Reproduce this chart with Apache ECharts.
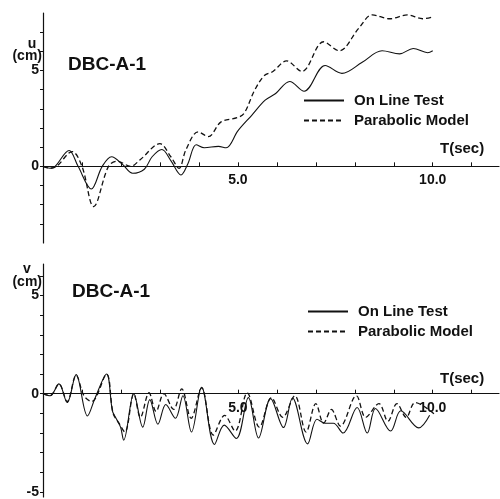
<!DOCTYPE html>
<html><head><meta charset="utf-8">
<script src="https://cdn.jsdelivr.net/npm/echarts@6/dist/echarts.min.js"></script>
<style>html,body{margin:0;padding:0;background:#fff}#c{width:500px;height:499px}</style>
</head><body><div id="c"></div>
<script>
// ---- data ----
var seriesNames = ['On Line Test', 'Parabolic Model'];
// top panel: u (cm) vs T (sec)
var tTopOLT = [0, 0.18, 0.31, 0.67, 0.9, 1.24, 1.52, 1.76, 2.04, 2.3, 2.6, 2.8, 3.05, 3.28, 3.54, 3.72, 3.93, 4.14, 4.5, 4.7, 5.0, 5.35, 5.7, 5.97, 6.33, 6.7, 7.24, 7.67, 8.19, 8.7, 9.15, 9.5, 9.87, 10.0];
var uOLT    = [0, -0.1, 0, 0.83, 0, -1.18, 0, 0.5, 0.1, -0.36, -0.15, 0.5, 0.88, 0.3, -0.45, 0.15, 1.13, 0.97, 1.04, 0.97, 1.85, 2.65, 3.45, 3.8, 4.43, 3.92, 5.26, 4.85, 5.43, 6.03, 5.87, 6.15, 5.93, 6.03];
var tTopPM  = [0, 0.18, 0.35, 0.75, 1.0, 1.3, 1.68, 1.9, 2.25, 2.5, 3.0, 3.28, 3.49, 3.67, 3.98, 4.24, 4.57, 5.0, 5.17, 5.43, 5.68, 5.9, 6.25, 6.64, 7.2, 7.6, 8.1, 8.45, 8.9, 9.35, 9.74, 10.0];
var uPM     = [0, -0.1, 0, 0.77, 0, -2.1, 0, 0.27, 0, 0.36, 1.18, 0.5, -0.1, 0.88, 1.8, 1.55, 2.32, 2.55, 2.8, 3.97, 4.74, 4.95, 5.5, 4.95, 6.5, 6.03, 7.2, 7.9, 7.7, 7.9, 7.7, 7.8];
// bottom panel: v (cm) vs T (sec)
var tBotOLT = [0, 0.18, 0.41, 0.62, 0.85, 1.14, 1.34, 1.63, 1.78, 1.86, 1.99, 2.07, 2.33, 2.56, 2.74, 2.95, 3.15, 3.4, 3.59, 3.81, 4.07, 4.4, 4.65, 4.96, 5.27, 5.53, 5.84, 6.17, 6.4, 6.79, 7.03, 7.24, 7.45, 7.7, 8.06, 8.32, 8.53, 8.92, 9.18, 9.64, 9.92];
var vOLT    = [0, -0.1, 0.5, -0.45, 0.97, -1.13, -0.2, 1.0, -0.87, -1.2, -1.7, -2.36, 0, -1.7, -0.3, -1.55, -0.55, -1.25, -0.1, -1.95, 0.33, -2.58, -1.6, -2.28, -0.2, -2.25, -0.25, -1.72, -0.22, -2.55, -1.3, -1.5, -1.5, -2.0, -0.7, -2.0, -0.75, -1.9, -0.87, -1.74, -1.1];
var tBotPM  = [0, 0.18, 0.41, 0.62, 0.85, 1.05, 1.25, 1.63, 1.8, 1.95, 2.1, 2.33, 2.5, 2.72, 2.9, 3.1, 3.35, 3.56, 3.8, 4.07, 4.37, 4.66, 4.93, 5.24, 5.55, 5.86, 6.15, 6.46, 6.75, 7.0, 7.2, 7.4, 7.63, 8.04, 8.28, 8.62, 8.85, 9.08, 9.32, 9.55, 10.05];
var vPM     = [0, -0.1, 0.5, -0.4, 0.95, -0.1, -0.4, 1.0, -1.0, -1.5, -1.95, 0, -1.2, 0.05, -0.9, 0, -0.8, 0.25, -1.25, 0.3, -2.1, -1.1, -1.9, 0.05, -1.7, -0.2, -1.2, -0.1, -1.95, -0.5, -1.5, -0.8, -1.65, -0.1, -1.2, -0.5, -1.4, -0.5, -1.2, -0.45, -1.05];
// axis ranges and tick labels
var xRange = [0, 11.7];
var yTopRange = [-4, 8];
var yBotRange = [-5.25, 6.6];
var xTickValues = [1, 2, 3, 4, 5, 6, 7, 8, 9, 10, 11];
var xLabelValues = [5, 10];
var xLabelText = ['5.0', '10.0'];
var yTopTicks = [-3, -2, -1, 1, 2, 3, 4, 5, 6, 7];
var yTopLabels = [0, 5];
var yBotTicks = [-5, -4, -3, -2, -1, 1, 2, 3, 4, 5, 6];
var yBotLabels = [-5, 0, 5];

function pairs(ts, vs) { return ts.map(function (t, i) { return [t, vs[i]]; }); }

var FONT = '"Liberation Sans", Arial, sans-serif';
var INK = '#111';
var GRIDS = [
  { left: 43, top: 13, width: 456, height: 230 },
  { left: 43, top: 264, width: 456, height: 233 }
];
var YR = [yTopRange, yBotRange];

function xAxis(gi) {
  var g = GRIDS[gi], r = YR[gi];
  // lift the axis (line, ticks, labels) from the grid bottom up to y = 0
  var off = -(0 - r[0]) / (r[1] - r[0]) * g.height;
  return {
    gridIndex: gi, type: 'value', min: xRange[0], max: xRange[1], position: 'bottom', offset: off,
    axisLine: { onZero: false, lineStyle: { color: INK, width: 1.2 } },
    axisTick: { show: true, inside: true, length: 4, customValues: xTickValues, lineStyle: { color: INK } },
    axisLabel: {
      customValues: xLabelValues, margin: 7, color: INK, fontFamily: FONT, fontSize: 14, fontWeight: 'bold',
      formatter: function (v) { var i = xLabelValues.indexOf(v); return i >= 0 ? xLabelText[i] : ''; }
    },
    splitLine: { show: false }
  };
}
function yAxis(gi, ticks, labels) {
  var r = YR[gi];
  return {
    gridIndex: gi, type: 'value', min: r[0], max: r[1],
    axisLine: { show: true, onZero: false, lineStyle: { color: INK, width: 1.2 } },
    axisTick: { show: true, length: 3, customValues: ticks.concat(labels), lineStyle: { color: INK } },
    axisLabel: { customValues: labels, margin: 4, color: INK, fontFamily: FONT, fontSize: 14, fontWeight: 'bold',
      formatter: function (v) { return String(v); } },
    splitLine: { show: false }
  };
}
function lineSeries(name, gi, data, dashed) {
  return {
    name: name, type: 'line', xAxisIndex: gi, yAxisIndex: gi, data: data,
    smooth: 0.35, symbol: 'none', silent: true, animation: false,
    lineStyle: { color: INK, width: dashed ? 1.3 : 1.1, type: dashed ? [5, 3] : 'solid' },
    itemStyle: { color: INK }
  };
}
function legend(left, top) {
  return {
    data: seriesNames, orient: 'vertical', left: left, top: top, padding: 0,
    itemWidth: 40, itemHeight: 14, itemGap: 5, selectedMode: false,
    itemStyle: { color: 'rgba(0,0,0,0)', borderColor: 'rgba(0,0,0,0)', borderWidth: 0, opacity: 0 },
    textStyle: { color: INK, fontFamily: FONT, fontSize: 15, fontWeight: 'bold', padding: [0, 0, 0, 5] }
  };
}
function txt(x, y, s, size, align) {
  return { type: 'text', x: x, y: y, silent: true,
    style: { text: s, fill: INK, font: 'bold ' + size + 'px ' + FONT, textAlign: align || 'left', textVerticalAlign: 'middle' } };
}

var chart = echarts.init(document.getElementById('c'), null, { renderer: 'canvas' });
chart.setOption({
  backgroundColor: '#fff',
  animation: false,
  grid: GRIDS,
  xAxis: [xAxis(0), xAxis(1)],
  yAxis: [yAxis(0, yTopTicks, yTopLabels), yAxis(1, yBotTicks, yBotLabels)],
  legend: [legend(303, 93), legend(307, 304)],
  series: [
    lineSeries(seriesNames[0], 0, pairs(tTopOLT, uOLT), false),
    lineSeries(seriesNames[1], 0, pairs(tTopPM, uPM), true),
    lineSeries(seriesNames[0], 1, pairs(tBotOLT, vOLT), false),
    lineSeries(seriesNames[1], 1, pairs(tBotPM, vPM), true)
  ],
  graphic: [
    txt(32, 44, 'u', 14, 'center'),
    txt(42, 56, '(cm)', 14, 'right'),
    txt(68, 65, 'DBC-A-1', 19),
    txt(440, 149, 'T(sec)', 15),
    txt(27, 269, 'v', 14, 'center'),
    txt(42, 282, '(cm)', 14, 'right'),
    txt(72, 292, 'DBC-A-1', 19),
    txt(440, 379, 'T(sec)', 15)
  ]
});
</script></body></html>
